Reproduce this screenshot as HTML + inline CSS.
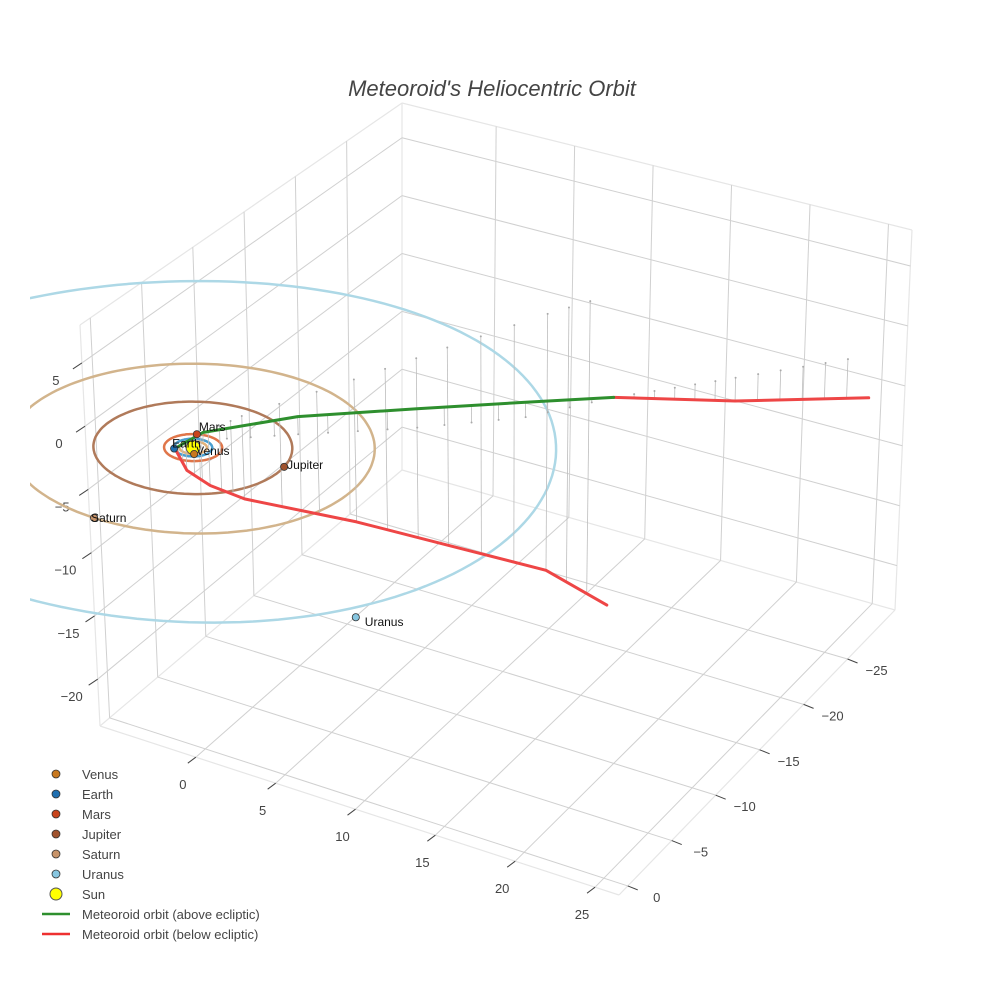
<!DOCTYPE html>
<html><head><meta charset="utf-8"><style>
body{margin:0;background:#fff;}
svg{display:block;font-family:"Liberation Sans",sans-serif;}
</style></head><body>
<svg id="chart" width="984" height="984" viewBox="0 0 984 984">
<rect width="984" height="984" fill="#fff"/>
<text x="492" y="96" text-anchor="middle" font-size="22" font-style="italic" fill="#444">Meteoroid's Heliocentric Orbit</text>
<g id="box"></g>
<g id="plot"></g>
<g id="legend"></g>
</svg>
<script>
// ---- data ----
const xTicks=[0,5,10,15,20,25];
const yTicks=[0,-5,-10,-15,-20,-25];
const zTicks=[5,0,-5,-10,-15,-20];
const planetNames=["Venus","Earth","Mars","Jupiter","Saturn","Uranus"];
const orbitRadii=[0.72,1.0,1.52,5.2,9.55,19.2];
const planetX=[0.42,-0.78,-0.62,5.15,-0.25,16.6];
const planetY=[0.59,0.63,-1.39,-0.7,9.55,11.4];
const planetZ=[0,0,0,0,0,0];
const sunPos=[0,0,0];
// meteoroid orbit, above ecliptic (green)
const aboveX=[-0.75,0.0,3.9,8.9,13.3,16.3];
const aboveY=[0.6,-1.0,-4.2,-8.1,-12.0,-16.2];
const aboveZ=[0.0,0.6,1.4,1.5,1.2,0.0];
// meteoroid orbit, below ecliptic (red) - inbound branch
const belowInX=[-0.75,-0.7,-0.3,0.3,3.2,5.6,8.3,10.2];
const belowInY=[0.6,-0.4,-2.0,-4.4,-11.0,-16.6,-22.5,-26.0];
const belowInZ=[0.0,-2.3,-4.3,-6.6,-11.5,-16.2,-21.3,-26.0];
// outbound branch beyond node
const belowOutX=[16.3,21.0,26.3];
const belowOutY=[-16.2,-21.2,-26.7];
const belowOutZ=[0.0,-1.9,-3.5];

// ---- styles ----
const planetColors=["#c8781e","#1f6fb0","#c8441c","#a0522d","#c8946a","#87c6e0"];
const orbitColors=["#e2b27a","#4a9fd0","#e0764a","#b07a5a","#d2b48c","#add8e6"];
const labelDX=[2,-2,2,3,-3,9];
const labelDY=[1,-1,-3,2,4,9];

// ---- projection (trilinear box mapping) ----
const X0=-6.0,X1=26.5,Y0=-30.4,Y1=1.0,Z0=-23.7,Z1=8.0;
const F00=[402,470],F01=[100,726],F10=[895,610],F11=[619,895];
const T00=[402,103],T01=[80,325],T10=[912,230],T11=[616,477];
function bil(a,b,c,d,u,v){
  const p=[a[0]+(b[0]-a[0])*v,a[1]+(b[1]-a[1])*v];
  const q=[c[0]+(d[0]-c[0])*v,c[1]+(d[1]-c[1])*v];
  return [p[0]+(q[0]-p[0])*u,p[1]+(q[1]-p[1])*u];
}
function P(x,y,z){
  const u=(x-X0)/(X1-X0),v=(y-Y0)/(Y1-Y0),w=(z-Z0)/(Z1-Z0);
  const f=bil(F00,F01,F10,F11,u,v),t=bil(T00,T01,T10,T11,u,v);
  return [f[0]+(t[0]-f[0])*w,f[1]+(t[1]-f[1])*w];
}
const NS="http://www.w3.org/2000/svg";
function mk(tag,attrs,parent){const e=document.createElementNS(NS,tag);for(const k in attrs)e.setAttribute(k,attrs[k]);parent.appendChild(e);return e;}
const box=document.getElementById('box'),plot=document.getElementById('plot'),leg=document.getElementById('legend');
function line3(a,b,stroke,w,parent,name){
  const p=P(...a),q=P(...b);
  const l=mk('line',{x1:p[0],y1:p[1],x2:q[0],y2:q[1],stroke:stroke,'stroke-width':w},parent);
  
  
  return l;
}
[[[X0,Y0,Z0],[X0,Y1,Z0]],[[X0,Y0,Z0],[X1,Y0,Z0]],[[X0,Y1,Z0],[X1,Y1,Z0]],[[X1,Y0,Z0],[X1,Y1,Z0]],
 [[X0,Y0,Z0],[X0,Y0,Z1]],[[X0,Y1,Z0],[X0,Y1,Z1]],[[X1,Y0,Z0],[X1,Y0,Z1]],
 [[X0,Y0,Z1],[X0,Y1,Z1]],[[X0,Y0,Z1],[X1,Y0,Z1]]].forEach(e=>line3(e[0],e[1],"#e6e6e6",1.2,box,'box-edge'));
zTicks.forEach(z=>{line3([X0,Y0,z],[X0,Y1,z],"#d0d0d0",1,box,'z-gridline');line3([X0,Y0,z],[X1,Y0,z],"#d0d0d0",1,box,'z-gridline');});
xTicks.forEach(x=>{line3([x,Y0,Z0],[x,Y1,Z0],"#d0d0d0",1,box,'x-gridline');line3([x,Y0,Z0],[x,Y0,Z1],"#d0d0d0",1,box,'x-gridline');});
yTicks.forEach(y=>{line3([X0,y,Z0],[X1,y,Z0],"#d0d0d0",1,box,'y-gridline');line3([X0,y,Z0],[X0,y,Z1],"#d0d0d0",1,box,'y-gridline');});
function txt(x,y,s,parent,name,opts){const t=mk('text',Object.assign({x:x,y:y,'font-size':13,fill:'#444'},opts||{}),parent);t.textContent=s;return t;}
function fmt(v){return v<0?'\u2212'+Math.abs(v):String(v);}
xTicks.forEach(x=>{const p=P(x,Y1,Z0);
  const l=mk('line',{x1:p[0],y1:p[1],x2:p[0]-8,y2:p[1]+6,stroke:'#444','stroke-width':1},box);
  
  txt(p[0]-13,p[1]+32,fmt(x),box,'x-tick-label',{'text-anchor':'middle'});});
yTicks.forEach(y=>{const p=P(X1,y,Z0);
  const l=mk('line',{x1:p[0],y1:p[1],x2:p[0]+10,y2:p[1]+4,stroke:'#444','stroke-width':1},box);
  
  txt(p[0]+29,p[1]+16,fmt(y),box,'y-tick-label',{'text-anchor':'middle'});});
zTicks.forEach(z=>{const p=P(X0,Y1,z);
  const l=mk('line',{x1:p[0],y1:p[1],x2:p[0]-9,y2:p[1]+6,stroke:'#444','stroke-width':1},box);
  
  txt(p[0]-26,p[1]+22,fmt(z),box,'z-tick-label',{'text-anchor':'middle'});});
const defs=mk('defs',{},document.getElementById('chart'));
const cp=mk('clipPath',{id:'sc'},defs);mk('rect',{x:30,y:0,width:954,height:984},cp);
const orbitsG=mk('g',{'clip-path':'url(#sc)'},plot);

orbitRadii.forEach((r,i)=>{let d='';for(let k=0;k<=180;k++){const a=k/180*2*Math.PI;const p=P(r*Math.cos(a),r*Math.sin(a),0);d+=(k?'L':'M')+p[0].toFixed(1)+','+p[1].toFixed(1);}
  const e=mk('path',{d:d,fill:'none',stroke:orbitColors[i],'stroke-width':2.5},orbitsG);
  });
function drops(X,Y,Z,n){
  for(let s=0;s<X.length-1;s++){for(let k=0;k<n;k++){const t=k/n;
    const x=X[s]+(X[s+1]-X[s])*t,y=Y[s]+(Y[s+1]-Y[s])*t,z=Z[s]+(Z[s+1]-Z[s])*t;
    if(Math.abs(z)<0.2)continue;
    line3([x,y,z],[x,y,0],'#bdbdbd',0.8,plot,'drop-line');
    const q=P(x,y,0);const c=mk('circle',{cx:q[0],cy:q[1],r:1,fill:'#aaa'},plot);
    }}
}
drops(belowInX,belowInY,belowInZ,3);
drops(aboveX,aboveY,aboveZ,4);
drops(belowOutX,belowOutY,belowOutZ,6);
function path3(X,Y,Z,col,name){let d='';X.forEach((x,i)=>{const p=P(x,Y[i],Z[i]);d+=(i?'L':'M')+p[0].toFixed(1)+','+p[1].toFixed(1);});
  const e=mk('path',{d:d,fill:'none',stroke:col,'stroke-width':3,'stroke-linejoin':'round','stroke-linecap':'round'},plot);
  }
path3(belowInX,belowInY,belowInZ,'#ee4646','meteoroid-below-inbound');
path3(belowOutX,belowOutY,belowOutZ,'#ee4646','meteoroid-below-outbound');
path3(aboveX,aboveY,aboveZ,'#2e8f2e','meteoroid-above');
const sp=P(...sunPos);
const sun=mk('circle',{cx:sp[0],cy:sp[1],r:7,fill:'#ffff00',stroke:'#555','stroke-width':1},plot);

planetNames.forEach((n,i)=>{const p=P(planetX[i],planetY[i],planetZ[i]);
  const c=mk('circle',{cx:p[0],cy:p[1],r:3.6,fill:planetColors[i],stroke:'#333','stroke-width':0.8},plot);
  
  txt(p[0]+labelDX[i],p[1]+labelDY[i],n,plot,n.toLowerCase()+'-label',{'font-size':12,fill:'#111'});});
const legNames=planetNames.concat(["Sun","Meteoroid orbit (above ecliptic)","Meteoroid orbit (below ecliptic)"]);
legNames.forEach((n,i)=>{const y=774+i*20;
  const g=mk('g',{},leg);
  if(i<6){mk('circle',{cx:56,cy:y,r:4,fill:planetColors[i],stroke:'#333','stroke-width':0.8},g);}
  else if(i==6){mk('circle',{cx:56,cy:y,r:6,fill:'#ffff00',stroke:'#555','stroke-width':1},g);}
  else{mk('line',{x1:42,y1:y,x2:70,y2:y,stroke:i==7?'#2e8f2e':'#ee3030','stroke-width':2.5},g);}
  txt(82,y+5,n,g,'legend-label');});
</script>
</body></html>
